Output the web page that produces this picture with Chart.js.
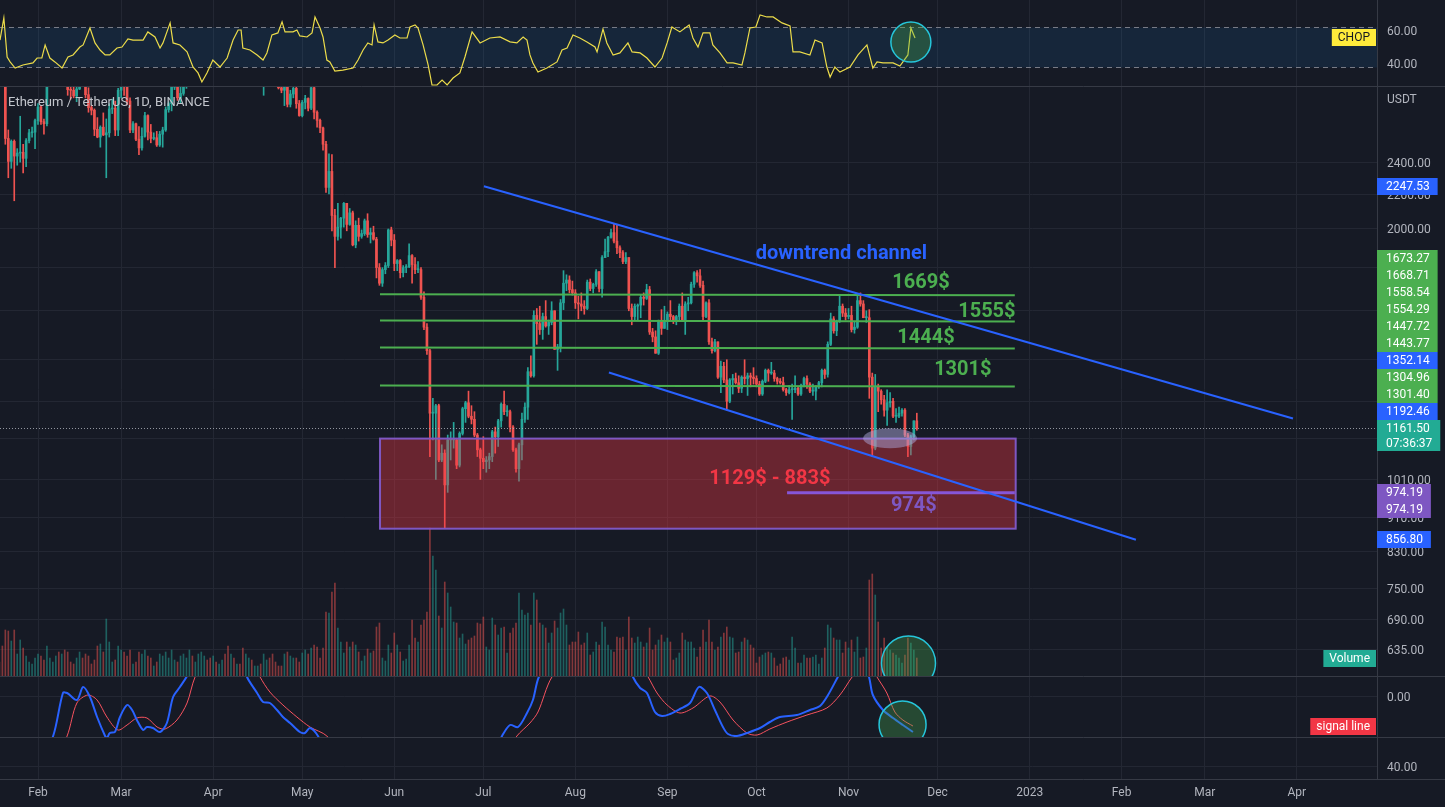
<!DOCTYPE html>
<html lang="en">
<head>
  <meta charset="UTF-8" />
  <title>Ethereum / TetherUS, 1D, BINANCE</title>
  <script src="https://cdn.jsdelivr.net/npm/chart.js"></script>
  <style>
    html, body { margin: 0; padding: 0; background: #161a25; overflow: hidden; }
    canvas { display: block; }
  </style>
</head>
<body>
  <canvas id="chart" width="1445" height="807"></canvas>
  <script>
// ---------- data ----------
// x values are day numbers counted from 1 Jan 2022 (= day 0)
const firstDay = 18;        // first candle: 19 Jan 2022
const firstOpen = 3160;

const closes = [
  3085, 3000, 2560, 2405, 2540, 2440, 2460, 2465, 2425, 2545, 2600, 2605, 2688,
  2790, 2680, 2665, 2990, 3025, 3060, 3145, 3125, 3240, 3080, 2925, 2920, 2875, 2930, 3180, 3125, 2885, 2785, 2765, 2625, 2570, 2640, 2585, 2600, 2775, 2780, 2620, 2920,
  2975, 2950, 2835, 2620, 2665, 2555, 2495, 2575, 2725, 2605, 2560, 2565, 2515, 2590, 2620, 2770, 2815, 2945, 2950, 2860, 2895, 2970, 3035, 3110, 3105, 3145, 3290, 3330, 3400, 3385, 3280,
  3450, 3445, 3520, 3520, 3410, 3170, 3235, 3190, 3260, 3210, 2980, 3030, 3120, 3020, 3040, 3060, 2990, 3060, 3100, 3080, 2985, 2965, 2940, 2920, 3005, 2810, 2890, 2935, 2815, 2725,
  2825, 2855, 2780, 2940, 2750, 2690, 2635, 2520, 2240, 2340, 2075, 1960, 2010, 2060, 2145, 2025, 2090, 1915, 2020, 1960, 1975, 2045, 1970, 1980, 1945, 1800, 1725, 1790, 1810, 1995, 1940,
  1820, 1835, 1775, 1800, 1805, 1860, 1815, 1790, 1790, 1660, 1530, 1435, 1210, 1210, 1235, 1065, 1085, 995, 1125, 1125, 1125, 1050, 1145, 1225, 1245, 1200, 1190, 1140, 1095, 1070,
  1060, 1065, 1075, 1150, 1135, 1185, 1240, 1215, 1215, 1165, 1095, 1040, 1110, 1190, 1230, 1355, 1340, 1580, 1545, 1520, 1575, 1535, 1550, 1600, 1440, 1450, 1635, 1725, 1740, 1695, 1680,
  1635, 1630, 1620, 1610, 1730, 1700, 1720, 1780, 1700, 1850, 1880, 1955, 1980, 1935, 1900, 1875, 1830, 1850, 1610, 1575, 1620, 1625, 1660, 1655, 1695, 1510, 1490, 1425, 1555, 1525, 1555,
  1585, 1575, 1555, 1575, 1620, 1560, 1630, 1635, 1720, 1775, 1760, 1715, 1575, 1635, 1470, 1435, 1470, 1335, 1375, 1325, 1250, 1325, 1330, 1315, 1295, 1335, 1330, 1340, 1335, 1330,
  1310, 1275, 1320, 1360, 1350, 1350, 1330, 1320, 1315, 1290, 1280, 1290, 1290, 1295, 1275, 1305, 1330, 1310, 1285, 1285, 1300, 1315, 1360, 1345, 1460, 1565, 1515, 1555, 1620, 1590, 1575,
  1580, 1520, 1530, 1645, 1630, 1570, 1570, 1335, 1100, 1300, 1285, 1255, 1220, 1245, 1250, 1200, 1200, 1210, 1220, 1140, 1105, 1135, 1185, 1161.5
];
const highs = [
  3170, 3265, 3045, 2620, 2550, 2550, 2490, 2720, 2520, 2560, 2625, 2640, 2700,
  2815, 2800, 2700, 3000, 3060, 3080, 3180, 3180, 3270, 3280, 3130, 2990, 2950, 2950, 3190, 3185, 3160, 2940, 2800, 2775, 2710, 2650, 2745, 2700, 2815, 2850, 2835, 2935,
  3030, 3000, 2970, 2860, 2680, 2670, 2645, 2635, 2750, 2730, 2660, 2600, 2610, 2610, 2640, 2790, 2830, 2950, 2990, 2950, 2950, 3040, 3045, 3125, 3185, 3155, 3295, 3410, 3480, 3445, 3440,
  3470, 3530, 3580, 3550, 3550, 3415, 3255, 3300, 3270, 3300, 3215, 3080, 3140, 3140, 3060, 3080, 3085, 3070, 3130, 3170, 3190, 3030, 2990, 2965, 3025, 3040, 2920, 2980, 2950, 2840,
  2840, 2880, 2860, 2960, 2955, 2760, 2700, 2640, 2540, 2455, 2450, 2110, 2145, 2065, 2150, 2145, 2115, 2100, 2045, 2060, 1995, 2055, 2085, 2005, 2015, 1955, 1820, 1800, 1825, 2000, 2010,
  1970, 1840, 1840, 1810, 1815, 1920, 1865, 1850, 1830, 1800, 1685, 1545, 1440, 1260, 1240, 1240, 1110, 1095, 1140, 1150, 1180, 1130, 1150, 1230, 1250, 1285, 1235, 1215, 1145, 1100,
  1135, 1075, 1085, 1155, 1165, 1190, 1245, 1285, 1235, 1220, 1170, 1100, 1115, 1210, 1245, 1370, 1415, 1600, 1610, 1620, 1590, 1645, 1560, 1640, 1600, 1460, 1650, 1785, 1765, 1760, 1735,
  1695, 1665, 1680, 1645, 1740, 1745, 1725, 1790, 1780, 1860, 1945, 1960, 2000, 2030, 2020, 1910, 1885, 1875, 1850, 1630, 1630, 1630, 1670, 1680, 1720, 1710, 1525, 1515, 1560, 1605, 1620,
  1595, 1645, 1580, 1580, 1630, 1680, 1640, 1660, 1730, 1780, 1785, 1790, 1735, 1640, 1650, 1485, 1480, 1470, 1395, 1390, 1400, 1330, 1345, 1350, 1340, 1340, 1400, 1350, 1350, 1370,
  1340, 1320, 1325, 1365, 1365, 1390, 1360, 1335, 1330, 1335, 1295, 1305, 1310, 1340, 1300, 1310, 1335, 1340, 1315, 1310, 1305, 1320, 1365, 1365, 1470, 1590, 1575, 1560, 1665, 1630, 1610,
  1610, 1620, 1555, 1675, 1680, 1645, 1600, 1605, 1350, 1345, 1310, 1290, 1270, 1290, 1280, 1260, 1225, 1230, 1225, 1225, 1145, 1140, 1185, 1210
];
const lows = [
  3055, 2990, 2520, 2300, 2360, 2160, 2380, 2400, 2330, 2370, 2530, 2570, 2490,
  2660, 2660, 2590, 2650, 2960, 2960, 3040, 2985, 3095, 3055, 2880, 2850, 2860, 2830, 2925, 3080, 2860, 2750, 2730, 2580, 2565, 2500, 2580, 2300, 2570, 2740, 2580, 2580,
  2860, 2880, 2810, 2600, 2600, 2545, 2450, 2480, 2570, 2550, 2530, 2550, 2505, 2505, 2500, 2610, 2750, 2760, 2925, 2840, 2820, 2880, 2935, 2990, 3070, 3090, 3120, 3280, 3330, 3345, 3270,
  3215, 3435, 3420, 3400, 3400, 3150, 3130, 3170, 3185, 3200, 2950, 2950, 3000, 3000, 3015, 3030, 2990, 2880, 3030, 3050, 2960, 2950, 2930, 2900, 2800, 2790, 2790, 2860, 2780, 2720,
  2715, 2775, 2760, 2770, 2700, 2640, 2600, 2480, 2210, 2200, 1990, 1800, 1940, 1950, 2010, 1990, 2020, 1910, 1900, 1935, 1950, 1965, 1955, 1925, 1940, 1750, 1715, 1710, 1770, 1800, 1910,
  1785, 1785, 1750, 1755, 1775, 1800, 1725, 1770, 1775, 1650, 1520, 1420, 1075, 1125, 1010, 1060, 1060, 885, 975, 1065, 1100, 1040, 1045, 1140, 1180, 1195, 1175, 1135, 1075, 1010,
  1040, 1030, 1040, 1060, 1085, 1105, 1165, 1205, 1200, 1150, 1090, 1030, 1005, 1065, 1180, 1190, 1335, 1335, 1460, 1500, 1480, 1530, 1500, 1540, 1440, 1360, 1430, 1605, 1690, 1680, 1670,
  1610, 1565, 1600, 1585, 1605, 1690, 1680, 1710, 1685, 1660, 1850, 1855, 1950, 1925, 1870, 1850, 1820, 1820, 1600, 1540, 1560, 1560, 1570, 1625, 1650, 1500, 1470, 1425, 1420, 1500, 1525,
  1520, 1560, 1545, 1540, 1560, 1555, 1500, 1600, 1630, 1705, 1730, 1705, 1560, 1570, 1460, 1425, 1430, 1330, 1280, 1315, 1220, 1245, 1275, 1310, 1280, 1280, 1310, 1270, 1300, 1310,
  1300, 1270, 1270, 1315, 1320, 1345, 1320, 1310, 1310, 1285, 1270, 1275, 1190, 1280, 1270, 1270, 1300, 1295, 1280, 1270, 1255, 1295, 1300, 1330, 1335, 1455, 1505, 1495, 1550, 1575, 1560,
  1565, 1510, 1505, 1525, 1620, 1570, 1550, 1260, 1075, 1095, 1215, 1240, 1200, 1170, 1230, 1195, 1180, 1195, 1200, 1135, 1075, 1080, 1125, 1155
];
// daily volume, thousand ETH
const volumes = [
  140, 300, 460, 450, 350, 460, 220, 360, 280, 200, 140, 120, 180,
  220, 200, 160, 300, 180, 140, 200, 240, 220, 260, 240, 140, 120, 180, 240, 180, 220, 200, 120, 160, 300, 320, 240, 570, 340, 140, 160, 300,
  260, 240, 200, 260, 120, 140, 240, 220, 260, 200, 180, 100, 140, 220, 200, 240, 180, 260, 160, 140, 200, 220, 180, 260, 200, 140, 220, 240, 200, 160, 180,
  200, 140, 120, 160, 220, 300, 220, 180, 120, 120, 280, 220, 180, 160, 100, 100, 120, 220, 160, 180, 220, 140, 100, 100, 220, 240, 200, 180, 180, 140,
  230, 260, 220, 280, 310, 290, 180, 280, 640, 630, 840, 930, 480, 340, 230, 340, 290, 340, 310, 240, 150, 200, 270, 230, 250, 490, 530, 180, 150, 310, 230,
  430, 310, 240, 150, 170, 310, 560, 380, 340, 510, 560, 640, 1480, 1200, 1060, 600, 480, 940, 830, 690, 540, 530, 380, 420, 320, 360, 380, 400, 530, 520,
  590, 290, 260, 580, 510, 410, 480, 490, 230, 430, 480, 530, 830, 660, 610, 630, 510, 830, 760, 530, 510, 480, 330, 430, 550, 480, 630, 670, 510, 310, 340,
  340, 440, 310, 330, 430, 210, 240, 340, 310, 540, 490, 310, 260, 240, 390, 380, 390, 260, 590, 380, 330, 390, 340, 290, 330, 480, 260, 310, 360, 410, 340,
  380, 340, 160, 180, 230, 430, 360, 340, 340, 280, 190, 290, 460, 340, 560, 340, 260, 290, 390, 430, 490, 390, 380, 230, 240, 340, 380, 360, 310, 280,
  130, 190, 210, 230, 240, 230, 180, 100, 120, 180, 190, 160, 390, 280, 130, 130, 210, 180, 180, 190, 210, 120, 180, 280, 510, 480, 380, 360, 360, 230, 340,
  280, 360, 240, 390, 180, 190, 280, 960, 1020, 810, 540, 280, 380, 290, 260, 230, 210, 180, 130, 210, 380, 330, 260, 180
];

const chopDays = [
  18.2, 19.5, 20.6, 21.6, 23.3, 25.9, 29.3, 30.7, 32.3, 33.4, 35.0, 36.7, 39.1, 41.1, 42.8, 45.1, 46.2, 48.5, 50.2, 51.9,
  53.6, 55.2, 57.6, 59.3, 61.3, 63.0, 66.4, 68.0, 70.4, 72.1, 73.1, 75.5, 76.5, 78.8, 81.2, 83.2, 84.9, 86.2, 87.9, 89.9,
  92.3, 94.7, 96.7, 98.4, 99.4, 100.0, 102.4, 104.8, 106.8, 108.1, 109.8, 111.8, 113.2, 114.2, 116.9, 118.2, 119.2, 121.6, 123.3, 124.3,
  126.0, 127.0, 128.3, 129.3, 131.0, 133.7, 137.1, 138.8, 140.5, 142.1, 143.5, 144.2, 145.5, 147.2, 148.9, 151.2, 152.9, 155.3, 156.3, 158.0,
  159.0, 160.7, 162.4, 163.7, 165.4, 167.1, 168.8, 170.8, 173.1, 174.8, 177.2, 179.9, 183.2, 186.6, 190.0, 192.3, 194.4, 195.7, 196.7, 197.7,
  199.4, 202.4, 205.8, 207.5, 209.2, 211.2, 213.5, 215.9, 218.6, 219.3, 221.3, 222.6, 224.7, 227.0, 229.7, 231.1, 233.8, 236.1, 238.8, 241.2,
  242.9, 244.5, 247.2, 250.3, 251.6, 253.3, 255.0, 257.3, 258.3, 260.7, 263.1, 265.1, 268.1, 269.1, 270.8, 272.8, 274.2, 276.5, 278.6, 281.6,
  284.3, 285.3, 287.6, 291.0, 292.7, 295.1, 296.7, 297.8, 299.4, 301.1, 304.5, 307.2, 310.2, 312.2, 313.6, 315.6, 319.0, 321.3, 324.0, 325.0, 326.4
];
const chopValues = [
  54.1, 67.1, 44.1, 41.2, 37.6, 39.4, 40.6, 43.5, 43.5, 51.2, 43.5, 41.2, 37.6, 44.1, 45.3, 50.0, 51.2, 61.2, 52.4, 48.2,
  45.3, 45.3, 49.4, 50.0, 54.7, 54.1, 54.1, 58.9, 55.9, 49.4, 52.4, 64.2, 52.4, 51.2, 47.1, 38.2, 34.7, 29.4, 34.7, 42.3,
  38.2, 43.5, 54.1, 60.0, 60.0, 49.4, 48.2, 45.3, 42.3, 46.5, 57.1, 58.3, 64.8, 58.9, 58.9, 60.0, 56.5, 55.9, 58.3, 67.7,
  61.2, 55.9, 42.3, 41.2, 35.8, 36.4, 37.6, 42.3, 48.2, 52.4, 51.2, 63.0, 53.0, 52.4, 54.1, 57.1, 55.3, 55.3, 61.8, 63.0,
  61.2, 51.2, 39.4, 27.6, 27.6, 30.5, 27.6, 31.7, 34.7, 44.1, 58.9, 52.4, 55.3, 55.9, 53.0, 52.4, 55.9, 54.1, 45.3, 40.6,
  35.2, 37.6, 41.2, 48.2, 49.4, 57.1, 55.3, 53.0, 50.0, 47.1, 60.6, 52.4, 45.3, 46.5, 52.4, 47.1, 46.5, 43.5, 38.2, 43.5,
  52.4, 61.8, 58.9, 63.0, 55.3, 50.0, 58.3, 58.3, 51.2, 46.5, 40.6, 40.6, 39.4, 46.5, 61.2, 61.8, 68.9, 67.7, 67.7, 64.2,
  62.4, 47.1, 47.1, 45.3, 54.1, 52.4, 38.2, 32.3, 38.2, 35.2, 38.2, 45.3, 51.2, 37.6, 41.2, 40.6, 40.6, 38.8, 45.3, 61.2, 55.3
];
const chopBand = [61.8, 38.2];

// MACD pane (only the part near zero is on screen)
const macdDays = [
  18.2, 31.7, 36.1, 39.4, 40.8, 44.1, 46.2, 48.5, 50.9, 53.6, 54.2, 55.2, 56.9, 58.6, 61.0, 62.7, 64.3, 66.4, 67.7, 69.7,
  72.1, 74.4, 76.5, 78.8, 81.2, 85.6, 94.0, 99.0, 101.4, 104.8, 106.8, 109.1, 111.5, 113.5, 115.9, 119.2, 120.9, 122.6, 125.3, 129.3,
  152.9, 173.1, 183.2, 187.3, 190.0, 192.7, 195.7, 197.7, 199.7, 206.8, 220.3, 228.7, 231.4, 233.8, 236.1, 238.8, 241.2, 243.9, 247.2, 250.6,
  253.6, 256.3, 259.0, 261.7, 263.4, 266.4, 269.8, 274.2, 277.5, 280.9, 286.6, 291.0, 294.4, 297.1, 300.4, 304.5, 308.5, 310.9, 312.2, 315.6,
  319.0, 322.3, 325.7
];
const macdValues = [
  -104, -64, -40, 3, 3, -4, 9, -1, -21, -40, -42, -37, -36, -21, -9, -14, -24, -34, -31, -32,
  -36, -27, -1, 9, 20, 46, 66, 41, 19, 3, -6, -7, -14, -21, -27, -36, -37, -32, -40, -64,
  -94, -104, -64, -40, -29, -31, -17, -4, 19, 56, 66, 41, 19, 8, 3, -16, -20, -18, -13, -7,
  9, 3, -14, -31, -38, -40, -37, -32, -26, -21, -19, -14, -10, 1, 19, 41, 36, 19, 1, -14,
  -22, -29, -36
];
const signalDays = [
  18.2, 35.0, 40.8, 44.1, 47.8, 50.9, 54.2, 57.9, 61.0, 64.3, 67.7, 71.1, 73.8, 77.8, 81.2, 83.9, 90.6, 99.0, 104.1, 105.8,
  109.1, 113.5, 118.2, 122.6, 128.3, 134.4, 159.7, 183.2, 192.3, 196.7, 199.4, 204.1, 213.5, 227.0, 233.8, 236.5, 239.5, 242.9, 247.2, 251.6,
  257.3, 260.7, 265.1, 269.8, 273.2, 277.5, 283.3, 290.0, 296.7, 301.1, 305.2, 308.5, 311.9, 313.6, 316.9, 319.6, 322.3, 325.7
];
const signalValues = [
  -64, -74, -40, -7, 1, -4, -21, -34, -29, -22, -22, -31, -33, -24, -7, 19, 56, 56, 31, 19,
  4, -9, -21, -31, -40, -64, -94, -79, -40, -27, -16, 19, 51, 56, 31, 19, 3, -9, -17, -12,
  0, -6, -24, -37, -39, -33, -26, -19, -12, 1, 19, 31, 28, 19, 3, -16, -24, -30
];

// axes
const monthTicks = [31, 59, 90, 120, 151, 181, 212, 243, 273, 304, 334, 365, 396, 424, 455];
const monthLabels = ['Feb', 'Mar', 'Apr', 'May', 'Jun', 'Jul', 'Aug', 'Sep', 'Oct', 'Nov', 'Dec', '2023', 'Feb', 'Mar', 'Apr'];
const priceTicks = [2400, 2200, 2000, 1800, 1600, 1400, 1250, 1130, 1010, 910, 830, 750, 690, 635];
const chopTicks = [60, 40];
const macdTicks = [0];
const lowPaneTicks = [40];

// drawings on the price pane
const levelStart = [1673.27, 1558.54, 1447.72, 1304.96];
const levelEnd = [1668.71, 1554.29, 1443.77, 1301.40];
const levelLabels = ['1669$', '1555$', '1444$', '1301$'];
const zonePrices = [1129, 883];
const zoneLabel = '1129$ - 883$';
const targetPrice = 974.19;
const targetLabel = '974$';
const channelUpper = [2247.53, 1192.46];
const channelLower = [1352.14, 856.80];
const countdown = '07:36:37';

// ---------- styles and placement ----------
const FONT = 'Roboto, "Noto Sans", sans-serif';
const BG = '#161a25', GRID = '#232733', SEP = '#363a45', TXT = '#b2b5be';
const UP = '#26a69a', DOWN = '#ef5350';
const BLUE = '#2962ff', GREEN = '#4caf50', PURPLE = '#7e57c2', TEAL = '#22ab94', RED = '#f23645';
const NOTE_FONT = 'bold 20px ' + FONT;

const levelDays = [146.2, 360];
const zoneDays = [146.2, 360.3];
const targetDays = [283.3, 360];
const upperDays = [181.2, 453.7];
const lowerDays = [223.3, 400.8];
const levelTextAt = [[328.4, 1727], [350.6, 1596], [330.1, 1486], [342.5, 1362]];
const channelTextAt = [301.6, 1870];
const zoneTextAt = [277.5, 1012];
const targetTextAt = [326, 940];
const ellipseAt = [318, 1130];
const volCircleAt = [324.2, 130];
const macdCircleAt = [322.2, -28.5];
const chopCircleAt = [325.0, 52.9];

// ---------- derived series ----------
const days = closes.map((_, i) => firstDay + i);
const opens = closes.map((c, i) => (i === 0 ? firstOpen : closes[i - 1]));
const isUp = closes.map((c, i) => c >= opens[i]);
const lastClose = closes[closes.length - 1];

function line(ctx, x1, y1, x2, y2) {
  ctx.beginPath(); ctx.moveTo(x1, y1); ctx.lineTo(x2, y2); ctx.stroke();
}
function clipPane(ctx, area, scale) {
  ctx.beginPath();
  ctx.rect(area.left, scale.top, area.right - area.left, scale.bottom - scale.top);
  ctx.clip();
}
function circle(ctx, x, y, r) {
  ctx.beginPath(); ctx.arc(x, y, r, 0, Math.PI * 2);
  ctx.fillStyle = 'rgba(76,175,80,0.32)'; ctx.fill();
  ctx.strokeStyle = '#26c6da'; ctx.lineWidth = 1.5; ctx.stroke();
}

// price labels on the right axis, pushed apart like the original
function layoutTags(tags, fixed) {
  const above = tags.filter(t => t.y < fixed.y).sort((a, b) => a.y - b.y);
  const below = tags.filter(t => t.y >= fixed.y).sort((a, b) => a.y - b.y);
  let limit = -Infinity;
  above.forEach(t => { t.top = Math.max(t.y - t.h / 2, limit); limit = t.top + t.h; });
  limit = fixed.top;
  for (let i = above.length - 1; i >= 0; i--) {
    const t = above[i];
    if (t.top + t.h > limit) t.top = limit - t.h;
    limit = t.top;
  }
  limit = fixed.top + fixed.h;
  below.forEach(t => { t.top = Math.max(t.y - t.h / 2, limit); limit = t.top + t.h; });
}

const panes = {
  id: 'panes',
  beforeDraw(chart) {
    const { ctx, width, height } = chart;
    ctx.save(); ctx.fillStyle = BG; ctx.fillRect(0, 0, width, height); ctx.restore();
  },
  beforeDatasetsDraw(chart) {
    const { ctx, chartArea: a, scales } = chart;
    const s = scales.yChop;
    const y1 = Math.round(s.getPixelForValue(chopBand[0])) + 0.5;
    const y2 = Math.round(s.getPixelForValue(chopBand[1])) + 0.5;
    ctx.save();
    ctx.fillStyle = 'rgba(33,150,243,0.1)';
    ctx.fillRect(a.left, y1, a.right - a.left, y2 - y1);
    ctx.strokeStyle = '#787b86'; ctx.lineWidth = 1; ctx.setLineDash([5, 4]);
    line(ctx, a.left, y1, a.right, y1);
    line(ctx, a.left, y2, a.right, y2);
    ctx.restore();
  },
  beforeDatasetDraw(chart, args) {
    chart.ctx.save();
    clipPane(chart.ctx, chart.chartArea, args.meta.yScale);
  },
  afterDatasetDraw(chart) {
    chart.ctx.restore();
  },
  afterDatasetsDraw(chart) {
    const { ctx, chartArea: a, scales } = chart;
    const X = scales.x, M = scales.yMain;
    const P = (d, v) => [X.getPixelForValue(d), M.getPixelForValue(v)];
    ctx.save();
    clipPane(ctx, a, M);

    // last price, dotted
    const cy = Math.round(M.getPixelForValue(lastClose)) + 0.5;
    ctx.strokeStyle = 'rgba(178,181,190,0.8)'; ctx.lineWidth = 1; ctx.setLineDash([1, 2]);
    line(ctx, a.left, cy, a.right, cy);
    ctx.setLineDash([]);

    // support zone
    const [zx1, zy1] = P(zoneDays[0], zonePrices[0]);
    const [zx2, zy2] = P(zoneDays[1], zonePrices[1]);
    ctx.fillStyle = 'rgba(242,54,69,0.38)';
    ctx.fillRect(zx1, zy1, zx2 - zx1, zy2 - zy1);
    ctx.strokeStyle = PURPLE; ctx.lineWidth = 2;
    ctx.strokeRect(zx1, zy1, zx2 - zx1, zy2 - zy1);

    // horizontal levels
    ctx.strokeStyle = GREEN; ctx.lineWidth = 2;
    levelStart.forEach((v, i) => {
      const [x1, y1] = P(levelDays[0], v), [x2, y2] = P(levelDays[1], levelEnd[i]);
      line(ctx, x1, y1, x2, y2);
    });

    // 974 target
    ctx.strokeStyle = '#8656d8'; ctx.lineWidth = 3;
    const [tx1, ty1] = P(targetDays[0], targetPrice), [tx2, ty2] = P(targetDays[1], targetPrice);
    line(ctx, tx1, ty1, tx2, ty2);

    // downtrend channel
    ctx.strokeStyle = BLUE; ctx.lineWidth = 2;
    let p1 = P(upperDays[0], channelUpper[0]), p2 = P(upperDays[1], channelUpper[1]);
    line(ctx, p1[0], p1[1], p2[0], p2[1]);
    p1 = P(lowerDays[0], channelLower[0]); p2 = P(lowerDays[1], channelLower[1]);
    line(ctx, p1[0], p1[1], p2[0], p2[1]);

    // ellipse on the November lows
    const [ex, ey] = P(ellipseAt[0], ellipseAt[1]);
    ctx.beginPath(); ctx.ellipse(ex, ey, 27, 10, 0, 0, Math.PI * 2);
    ctx.fillStyle = 'rgba(170,165,215,0.5)'; ctx.fill();

    // texts
    ctx.textAlign = 'center'; ctx.textBaseline = 'middle';
    ctx.font = NOTE_FONT; ctx.fillStyle = BLUE;
    let t = P(channelTextAt[0], channelTextAt[1]);
    ctx.fillText('downtrend channel', t[0], t[1]);
    ctx.fillStyle = GREEN;
    levelLabels.forEach((s, i) => {
      const q = P(levelTextAt[i][0], levelTextAt[i][1]);
      ctx.fillText(s, q[0], q[1]);
    });
    ctx.fillStyle = RED;
    t = P(zoneTextAt[0], zoneTextAt[1]);
    ctx.fillText(zoneLabel, t[0], t[1]);
    ctx.fillStyle = PURPLE;
    t = P(targetTextAt[0], targetTextAt[1]);
    ctx.fillText(targetLabel, t[0], t[1]);

    // volume highlight
    circle(ctx, X.getPixelForValue(volCircleAt[0]), scales.yv.getPixelForValue(volCircleAt[1]), 27);
    ctx.restore();

    ctx.save(); clipPane(ctx, a, scales.yMacd);
    circle(ctx, X.getPixelForValue(macdCircleAt[0]), scales.yMacd.getPixelForValue(macdCircleAt[1]), 23.5);
    ctx.restore();

    ctx.save(); clipPane(ctx, a, scales.yChop);
    circle(ctx, X.getPixelForValue(chopCircleAt[0]), scales.yChop.getPixelForValue(chopCircleAt[1]), 20);
    ctx.restore();
  },
  afterDraw(chart) {
    const { ctx, chartArea: a, scales, width } = chart;
    const M = scales.yMain;
    ctx.save();

    // pane separators
    ctx.strokeStyle = SEP; ctx.lineWidth = 1;
    [M.top, scales.yMacd.top, scales.yLow.top, a.bottom].forEach(y => {
      const yy = Math.round(y) + 0.5;
      line(ctx, 0, yy, width, yy);
    });
    line(ctx, Math.round(a.right) + 0.5, 0, Math.round(a.right) + 0.5, a.bottom);

    // legend title and currency
    ctx.font = '13px ' + FONT; ctx.fillStyle = '#c2c5cc'; ctx.textBaseline = 'middle'; ctx.textAlign = 'left';
    ctx.fillText('Ethereum / TetherUS, 1D, BINANCE', 8, M.top + 17);
    ctx.font = '12px ' + FONT; ctx.fillStyle = TXT;
    ctx.fillText('USDT', a.right + 10, M.top + 14);

    // axis price tags
    const tags = [];
    const addTag = (v, c) => tags.push({ v, c, y: M.getPixelForValue(v), h: 17 });
    addTag(channelUpper[0], BLUE); addTag(channelUpper[1], BLUE);
    addTag(channelLower[0], BLUE); addTag(channelLower[1], BLUE);
    levelStart.forEach((v, i) => { addTag(v, GREEN); addTag(levelEnd[i], GREEN); });
    addTag(targetPrice, PURPLE); addTag(targetPrice, PURPLE);
    const fy = M.getPixelForValue(lastClose);
    const fixed = { y: fy, top: fy - 8.5, h: 31 };
    layoutTags(tags, fixed);

    ctx.font = '12px ' + FONT; ctx.textAlign = 'left'; ctx.textBaseline = 'middle';
    tags.forEach(tg => {
      const s = tg.v.toFixed(2);
      const w = ctx.measureText(s).width + 17;
      ctx.fillStyle = tg.c; ctx.fillRect(a.right, Math.round(tg.top), w, tg.h);
      ctx.fillStyle = '#ffffff'; ctx.fillText(s, a.right + 9, Math.round(tg.top) + 9);
    });
    const s1 = lastClose.toFixed(2);
    const w1 = Math.max(ctx.measureText(s1).width, ctx.measureText(countdown).width) + 17;
    ctx.fillStyle = TEAL; ctx.fillRect(a.right, Math.round(fixed.top), w1, fixed.h);
    ctx.fillStyle = '#ffffff';
    ctx.fillText(s1, a.right + 9, Math.round(fixed.top) + 9);
    ctx.fillText(countdown, a.right + 9, Math.round(fixed.top) + 24);

    // pane value labels, at the last value of each series
    const paneLabel = (text, y, bg, fg) => {
      const w = ctx.measureText(text).width + 12;
      const top = Math.round(y - 8.5);
      ctx.fillStyle = bg; ctx.fillRect(a.right - 1 - w, top, w, 17);
      ctx.fillStyle = fg; ctx.fillText(text, a.right - 1 - w + 6, top + 9);
    };
    paneLabel('CHOP', scales.yChop.getPixelForValue(chopValues[chopValues.length - 1]), '#ffeb3b', '#131722');
    paneLabel('Volume', scales.yv.getPixelForValue(volumes[volumes.length - 1]), TEAL, '#ffffff');
    paneLabel('signal line', scales.yMacd.getPixelForValue(signalValues[signalValues.length - 1]), RED, '#ffffff');
    ctx.restore();
  }
};

const tickFont = { family: FONT, size: 12 };
const fitPane = s => { s.width = 68; s.paddingTop = 0; s.paddingBottom = 0; };
function paneAxis(weight, min, max, ticks, type, gridOn) {
  return {
    type: type || 'linear', position: 'right', stack: 'panes', stackWeight: weight,
    min, max, beginAtZero: false,
    grid: { display: gridOn !== false, color: GRID, drawTicks: false },
    border: { display: false },
    ticks: {
      color: TXT, font: tickFont, padding: 10, labelOffset: 1.5, autoSkip: false,
      callback: v => Number(v).toFixed(2)
    },
    afterBuildTicks: s => { s.ticks = ticks.map(v => ({ value: v })); },
    afterFit: fitPane
  };
}

new Chart(document.getElementById('chart'), {
  type: 'bar',
  data: {
    datasets: [
      {
        type: 'line', label: 'CHOP', yAxisID: 'yChop', xAxisID: 'x',
        data: chopDays.map((d, i) => ({ x: d, y: chopValues[i] })),
        borderColor: '#ecdc4a', borderWidth: 1.2, pointRadius: 0, tension: 0, clip: 0, order: 0
      },
      {
        type: 'line', label: 'MACD', yAxisID: 'yMacd', xAxisID: 'x',
        data: macdDays.map((d, i) => ({ x: d, y: macdValues[i] })),
        borderColor: BLUE, borderWidth: 2, pointRadius: 0, tension: 0.3, clip: 0, order: 0
      },
      {
        type: 'line', label: 'signal line', yAxisID: 'yMacd', xAxisID: 'x',
        data: signalDays.map((d, i) => ({ x: d, y: signalValues[i] })),
        borderColor: '#f7525f', borderWidth: 1, pointRadius: 0, tension: 0.3, clip: 0, order: 0
      },
      {
        label: 'body', yAxisID: 'yMain', xAxisID: 'x',
        data: days.map((d, i) => ({ x: d, y: [opens[i], closes[i]] })),
        backgroundColor: isUp.map(u => (u ? UP : DOWN)),
        barThickness: 2, minBarLength: 1, grouped: false, clip: 0, order: 1
      },
      {
        label: 'wick', yAxisID: 'yMain', xAxisID: 'x',
        data: days.map((d, i) => ({ x: d, y: [lows[i], highs[i]] })),
        backgroundColor: isUp.map(u => (u ? UP : DOWN)),
        barThickness: 1, grouped: false, clip: 0, order: 2
      },
      {
        label: 'Volume', yAxisID: 'yv', xAxisID: 'x',
        data: days.map((d, i) => ({ x: d, y: volumes[i] })),
        backgroundColor: isUp.map(u => (u ? 'rgba(38,166,154,0.5)' : 'rgba(239,83,80,0.5)')),
        barThickness: 1, grouped: false, clip: 0, order: 5
      }
    ]
  },
  options: {
    responsive: false,
    animation: false,
    events: [],
    layout: { padding: 0 },
    plugins: { legend: { display: false }, tooltip: { enabled: false } },
    scales: {
      x: {
        type: 'linear', min: 18.2, max: 482, offset: false,
        grid: { color: GRID, drawTicks: false, offset: false },
        border: { display: false },
        ticks: {
          color: TXT, font: tickFont, padding: 7, autoSkip: false, maxRotation: 0,
          callback: v => monthLabels[monthTicks.indexOf(v)]
        },
        afterBuildTicks: s => { s.ticks = monthTicks.map(v => ({ value: v })); },
        afterFit: s => { s.height = 28; s.paddingLeft = 0; s.paddingRight = 0; }
      },
      yChop: paneAxis(86, 27, 77.7, chopTicks, 'linear', false),
      yMain: paneAxis(590, 590.8, 2954, priceTicks, 'logarithmic'),
      yMacd: paneAxis(61, -41, 20, macdTicks),
      yLow: paneAxis(42, 27, 69, lowPaneTicks),
      yv: { type: 'linear', display: false, min: -1030, max: 6760 }
    }
  },
  plugins: [panes]
});
  </script>
</body>
</html>
